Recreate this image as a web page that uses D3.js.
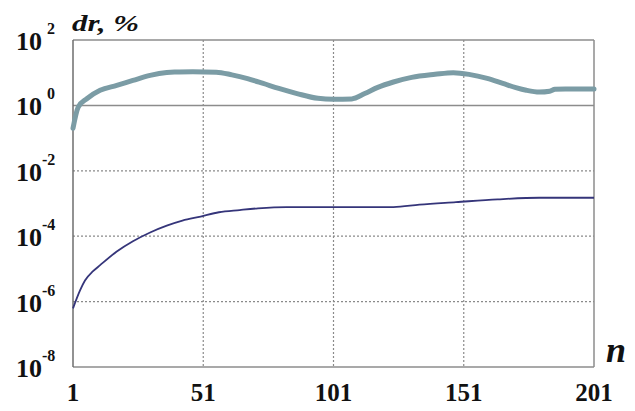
<!DOCTYPE html>
<html>
<head>
<meta charset="utf-8">
<script src="https://cdn.jsdelivr.net/npm/d3@7/dist/d3.min.js"></script>
<style>
  html, body { margin: 0; padding: 0; background: #fff; }
  svg { display: block; }
</style>
</head>
<body>
<svg id="chart" width="635" height="411"></svg>
<script>
// Iteration index n and the relative error dr (%) of the two schemes
const upperN = [1, 3, 6.3, 11.4, 17.8, 24, 30.6, 37, 40, 47, 56, 62, 68, 74, 80, 87, 95, 101, 108, 113, 118, 124, 131, 140, 147, 153, 160, 166, 171, 175, 180, 184, 186, 190, 196, 201];
const upperDr = [0.2, 0.89, 1.6, 2.9, 4.1, 5.8, 8.3, 10.2, 10.5, 10.6, 10.4, 8.6, 6.6, 4.7, 3.3, 2.3, 1.65, 1.55, 1.58, 2.3, 3.55, 5.2, 7.2, 8.9, 10.0, 8.9, 6.7, 4.7, 3.5, 2.9, 2.55, 2.7, 3.1, 3.2, 3.2, 3.2];

const lowerN = [1, 3.7, 5.6, 8.7, 11.4, 17.8, 24, 30.6, 37, 43, 50, 57, 65, 72, 83, 124, 134, 148, 164, 180, 201];
const lowerDr = [6.2e-7, 2.2e-6, 4.4e-6, 8.5e-6, 1.3e-5, 3.4e-5, 7.0e-5, 1.3e-4, 2.1e-4, 3.0e-4, 4.0e-4, 5.4e-4, 6.3e-4, 7.1e-4, 7.8e-4, 7.8e-4, 9.2e-4, 1.1e-3, 1.34e-3, 1.5e-3, 1.5e-3];

const xTicks = [1, 51, 101, 151, 201];
const yExponents = [2, 0, -2, -4, -6, -8];

const serif = "'Liberation Serif', 'Times New Roman', Times, serif";

const svg = d3.select("#chart");
const plotLeft = 73, plotRight = 594, plotTop = 40, plotBottom = 367;

const x = d3.scaleLinear().domain([1, 201]).range([plotLeft, plotRight]);
const y = d3.scaleLog().domain([1e-8, 1e2]).range([plotBottom, plotTop]);

// Grid: dotted verticals and horizontals, solid at 10^0 and 10^2
const g = svg.append("g");
g.selectAll("line.vg").data(xTicks.slice(1, -1)).enter().append("line")
  .attr("x1", d => x(d)).attr("x2", d => x(d))
  .attr("y1", plotTop).attr("y2", plotBottom)
  .attr("stroke", "#8a8a8a").attr("stroke-width", 1.2).attr("stroke-dasharray", "2,2");
g.selectAll("line.hg").data(yExponents.filter(e => e !== -8)).enter().append("line")
  .attr("x1", plotLeft).attr("x2", plotRight)
  .attr("y1", e => y(Math.pow(10, e))).attr("y2", e => y(Math.pow(10, e)))
  .attr("stroke", e => (e >= 0 ? "#8c8c8c" : "#8a8a8a"))
  .attr("stroke-width", e => (e >= 0 ? 1.5 : 1.2))
  .attr("stroke-dasharray", e => (e >= 0 ? null : "2,2"));

// Frame
g.append("line").attr("x1", plotRight).attr("x2", plotRight).attr("y1", plotTop).attr("y2", plotBottom)
  .attr("stroke", "#8c8c8c").attr("stroke-width", 1.5);
g.append("line").attr("x1", plotLeft).attr("x2", plotRight).attr("y1", plotBottom).attr("y2", plotBottom)
  .attr("stroke", "#8c8c8c").attr("stroke-width", 1.5);
g.append("line").attr("x1", plotLeft).attr("x2", plotLeft).attr("y1", plotTop).attr("y2", plotBottom)
  .attr("stroke", "#6e6e6e").attr("stroke-width", 1.5);

const line = d3.line().x(d => x(d[0])).y(d => y(d[1]));

svg.append("path")
  .datum(upperN.map((n, i) => [n, upperDr[i]]))
  .attr("d", line.curve(d3.curveMonotoneX))
  .attr("fill", "none").attr("stroke", "#7b9ca5").attr("stroke-width", 5)
  .attr("stroke-linejoin", "round").attr("stroke-linecap", "round");

svg.append("path")
  .datum(lowerN.map((n, i) => [n, lowerDr[i]]))
  .attr("d", line.curve(d3.curveMonotoneX))
  .attr("fill", "none").attr("stroke", "#35357a").attr("stroke-width", 1.8);

// Y tick labels: 10 with a superscript exponent
const yl = svg.append("g")
  .attr("font-family", serif).attr("font-weight", "bold").attr("fill", "#111");
yExponents.forEach(e => {
  const t = yl.append("text")
    .attr("x", 16).attr("y", y(Math.pow(10, e)) + 10)
    .attr("font-size", 26);
  t.append("tspan").text("10");
  t.append("tspan").attr("dx", e >= 0 ? 5 : 0).attr("dy", -16).attr("font-size", 16).text(e);
});

// X tick labels
svg.append("g")
  .attr("font-family", serif).attr("font-weight", "bold").attr("fill", "#111")
  .selectAll("text").data(xTicks).enter().append("text")
  .attr("x", d => x(d)).attr("y", 401)
  .attr("text-anchor", "middle").attr("font-size", 25)
  .text(d => d);

// Axis titles
svg.append("text").attr("x", 72).attr("y", 31)
  .attr("font-family", serif).attr("font-weight", "bold").attr("font-style", "italic")
  .attr("fill", "#111").attr("font-size", 23)
  .attr("textLength", 67).attr("lengthAdjust", "spacingAndGlyphs")
  .text("dr, %");
svg.append("text").attr("x", 606).attr("y", 362)
  .attr("font-family", serif).attr("font-weight", "bold").attr("font-style", "italic")
  .attr("fill", "#111").attr("font-size", 36)
  .text("n");
</script>
</body>
</html>
